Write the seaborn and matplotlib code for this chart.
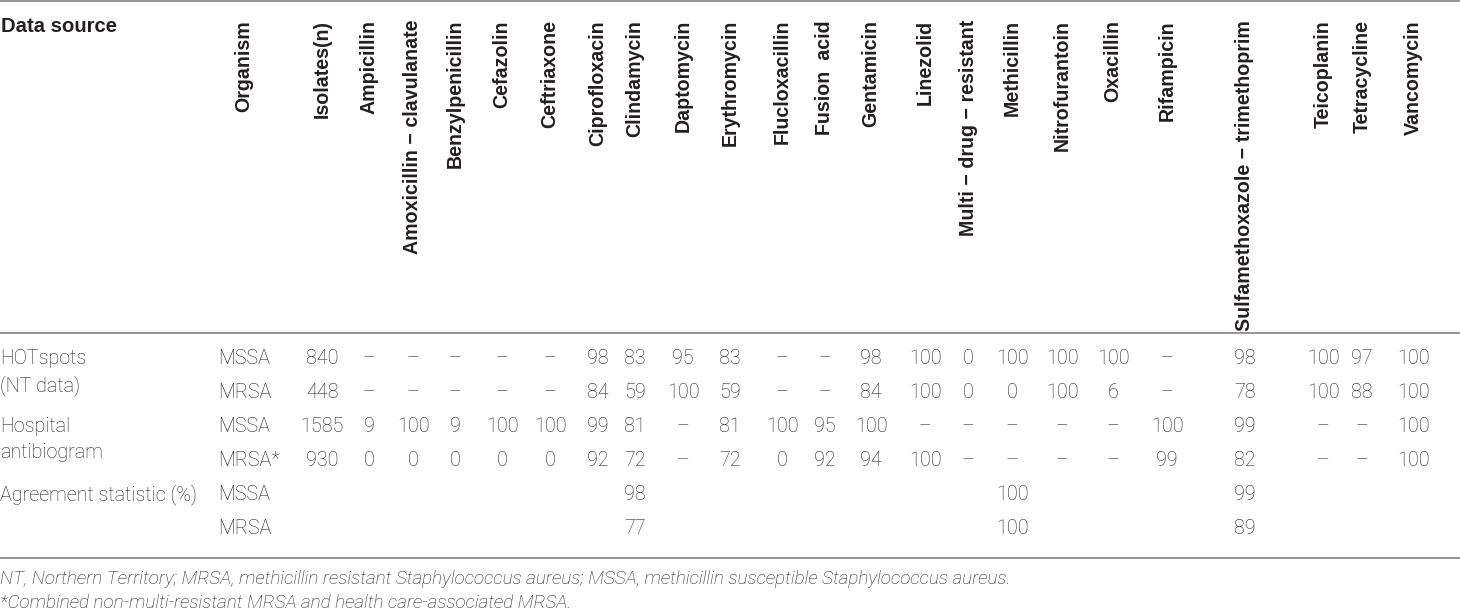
import matplotlib
matplotlib.use("Agg")
import matplotlib.pyplot as plt
import seaborn as sns

# ---------------- data ----------------
drugs = ["Ampicillin", "Amoxicillin \u2212 clavulanate", "Benzylpenicillin", "Cefazolin",
         "Ceftriaxone", "Ciprofloxacin", "Clindamycin", "Daptomycin", "Erythromycin",
         "Flucloxacillin", "Fusion  acid", "Gentamicin", "Linezolid",
         "Multi \u2212 drug \u2212 resistant", "Methicillin", "Nitrofurantoin", "Oxacillin",
         "Rifampicin", "Sulfamethoxazole \u2212 trimethoprim", "Teicoplanin", "Tetracycline",
         "Vancomycin"]
sources = ["HOTspots\n(NT data)", "Hospital\nantibiogram", "Agreement statistic (%)"]
organisms = ["MSSA", "MRSA", "MSSA", "MRSA*", "MSSA", "MRSA"]
isolates = ["840", "448", "1585", "930", "", ""]
D = "\u2013"
hot_mssa = [D, D, D, D, D, "98", "83", "95", "83", D, D, "98", "100", "0", "100", "100", "100", D, "98", "100", "97", "100"]
hot_mrsa = [D, D, D, D, D, "84", "59", "100", "59", D, D, "84", "100", "0", "0", "100", "6", D, "78", "100", "88", "100"]
hosp_mssa = ["9", "100", "9", "100", "100", "99", "81", D, "81", "100", "95", "100", D, D, D, D, D, "100", "99", D, D, "100"]
hosp_mrsa = ["0", "0", "0", "0", "0", "92", "72", D, "72", "0", "92", "94", "100", D, D, D, D, "99", "82", D, D, "100"]
agree_mssa = ["", "", "", "", "", "", "98", "", "", "", "", "", "", "", "100", "", "", "", "99", "", "", ""]
agree_mrsa = ["", "", "", "", "", "", "77", "", "", "", "", "", "", "", "100", "", "", "", "89", "", "", ""]
footnotes = ["NT, Northern Territory; MRSA, methicillin resistant Staphylococcus aureus; MSSA, methicillin susceptible Staphylococcus aureus.",
             "*Combined non-multi-resistant MRSA and health care-associated MRSA."]

rows = [hot_mssa, hot_mrsa, hosp_mssa, hosp_mrsa, agree_mssa, agree_mrsa]

# ---------------- layout ----------------
W, H = 1460, 611
drug_x = [369, 413, 455, 502, 550, 598, 635, 683, 730, 782, 825, 871, 925, 968,
          1012, 1062, 1113, 1167, 1245, 1323, 1362, 1413]
org_x = 218
org_head_x = 244
iso_x = 322
row_y = [359, 393, 427, 461, 495, 529]
source_y = [(359, 386), (427, 453), (495,)]

sns.set_theme(style="white")
plt.rcParams["font.family"] = ["Liberation Sans", "DejaVu Sans"]

fig = plt.figure(figsize=(W / 100, H / 100), dpi=100)
ax = fig.add_axes([0, 0, 1, 1])
ax.set_xlim(0, W)
ax.set_ylim(H, 0)
ax.axis("off")

txt = "#231f20"
body = dict(family=["Roboto", "Liberation Sans", "DejaVu Sans"], weight="light", size=14.2, color=txt)
foot = dict(family=["Roboto", "Liberation Sans", "DejaVu Sans"], weight="light", size=13.6, color=txt)
head = dict(family=["Liberation Sans", "DejaVu Sans"], weight="bold", size=14.1, color=txt)

# rules
for y in (1, 333, 558):
    ax.plot([0, W], [y, y], color="#8c8c8c", lw=1.3, solid_capstyle="butt")

# header
ax.text(1, 27, "Data source", ha="left", va="center", family=["Liberation Sans", "DejaVu Sans"],
        weight="bold", size=14.6, color=txt)
ax.text(org_head_x, 20, "Organism", rotation=90, ha="center", va="top", **head)
ax.text(iso_x, 20, "Isolates(n)", rotation=90, ha="center", va="top", **head)
for x, name in zip(drug_x, drugs):
    ax.text(x, 20, name, rotation=90, ha="center", va="top", **head)

# data source labels
for ys, src in zip(source_y, sources):
    for y, line in zip(ys, src.split("\n")):
        ax.text(0, y, line, ha="left", va="center", **body)

# body rows
for y, org, iso, vals in zip(row_y, organisms, isolates, rows):
    ax.text(org_x, y, org, ha="left", va="center", **body)
    if iso:
        ax.text(iso_x, y, iso, ha="center", va="center", **body)
    for x, v in zip(drug_x, vals):
        if v:
            ax.text(x, y, v, ha="center", va="center", **body)

# footnotes
for y, note in zip((579, 603), footnotes):
    ax.text(0, y, note, ha="left", va="center", style="italic", **foot)

fig.savefig("out.png", dpi=100)
